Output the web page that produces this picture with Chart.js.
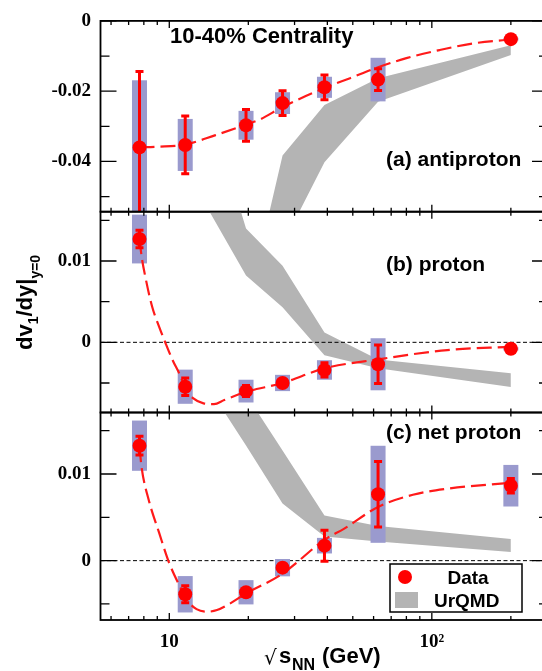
<!DOCTYPE html>
<html><head><meta charset="utf-8">
<script src="https://cdn.jsdelivr.net/npm/chart.js@4.4.1/dist/chart.umd.min.js"></script>
<style>
html,body{margin:0;padding:0;background:#fff;overflow:hidden;}
#wrap{position:relative;width:542px;height:671px;overflow:hidden;background:#fff;}
canvas{position:absolute;left:0;top:0;}
</style></head><body>
<div id="wrap">
<canvas id="ca" width="560" height="671"></canvas>
<canvas id="cb" width="560" height="671"></canvas>
<canvas id="cc" width="560" height="671"></canvas>
</div>
<script>
// ---------- data ----------
const energies = [7.7, 11.5, 19.6, 27, 39, 62.4, 200];

const antiprotonV1   = [-0.0360, -0.0353, -0.0297, -0.0234, -0.0189, -0.0167, -0.0052];
const antiprotonStat = [0.0219, 0.0085, 0.0048, 0.0038, 0.0038, 0.0034, 0.0003];
const antiprotonSys  = [0.0191, 0.0074, 0.0041, 0.0031, 0.0030, 0.0062, 0.0004];

const protonV1   = [0.0127, -0.00546, -0.0060, -0.0050, -0.0034, -0.0027, -0.0008];
const protonStat = [0.0012, 0.0012, 0.0008, 0.0005, 0.0010, 0.0025, 0.0002];
const protonSys  = [0.0030, 0.0021, 0.0014, 0.0010, 0.0012, 0.0032, 0.0002];

const netProtonV1   = [0.01327, -0.00388, -0.00365, -0.00081, 0.00173, 0.00766, 0.00865];
const netProtonStat = [0.0012, 0.0011, 0.0004, 0.0004, 0.0019, 0.0039, 0.00095];
const netProtonSys  = [0.0029, 0.0021, 0.0014, 0.0010, 0.0009, 0.0056, 0.0024];

// dashed fit curves
const fitAntiprotonX = [7.7, 9, 11.5, 15, 19.6, 22.2, 27, 39, 48.8, 62.4, 80, 107, 144, 200];
const fitAntiprotonY = [-0.0360, -0.0358, -0.0352, -0.0325, -0.0295, -0.0280, -0.0245, -0.0191, -0.0163, -0.0132, -0.0106, -0.0083, -0.0064, -0.0053];
const fitProtonX = [7.7, 7.85, 8.1, 8.6, 9.15, 9.65, 10.3, 10.9, 11.6, 12.35, 13.5, 14.8, 16.2, 19.6, 27, 39, 62.4, 114.5, 200];
const fitProtonY = [0.0127, 0.0105, 0.0081, 0.0044, 0.0019, 0.0, -0.0022, -0.0038, -0.0058, -0.0069, -0.0075, -0.0076, -0.0071, -0.0061, -0.0050, -0.0032, -0.0021, -0.00095, -0.00055];
const fitNetProtonX = [7.7, 7.85, 8.35, 9.15, 10, 10.9, 11.8, 12.7, 13.9, 15.2, 16.7, 19.6, 27, 39, 46.4, 62.4, 84.7, 114.5, 200];
const fitNetProtonY = [0.0131, 0.0107, 0.0070, 0.0032, -0.0003, -0.0028, -0.0047, -0.0056, -0.0059, -0.0057, -0.0051, -0.0038, -0.0015, 0.0024, 0.0037, 0.0062, 0.0076, 0.0083, 0.0090];

// UrQMD bands (upper / lower edges)
const urqmdAntiprotonX = [19.6, 27, 39, 62.4, 200];
const urqmdAntiprotonUp = [-0.083, -0.0383, -0.0239, -0.0163, -0.0069];
const urqmdAntiprotonLo = [-0.100, -0.0637, -0.0402, -0.0230, -0.0097];
const urqmdProtonX = [11.5, 19.6, 27, 39, 62.4, 200];
const urqmdProtonUp = [0.0387, 0.0140, 0.0094, 0.0012, -0.0021, -0.0038];
const urqmdProtonLo = [0.0213, 0.0082, 0.0043, -0.0016, -0.0032, -0.0055];
const urqmdNetProtonX = [11.5, 19.6, 27, 39, 62.4, 200];
const urqmdNetProtonUp = [0.0299, 0.0192, 0.0127, 0.0052, 0.0040, 0.0025];
const urqmdNetProtonLo = [0.0241, 0.0133, 0.0066, 0.0028, 0.0022, 0.0010];

// ticks
const xMajorTicks = [10, 100];
const xTickLabels = ['10', '10\u00B2'];
const xMinorTicks = [6, 7, 8, 9, 20, 30, 40, 50, 60, 70, 80, 90, 200];
const yMajorA = [0, -0.02, -0.04];  const yLabelsA = ['0', '-0.02', '-0.04'];  const yMinorA = [-0.01, -0.03, -0.05];
const yMajorB = [0.01, 0];          const yLabelsB = ['0.01', '0'];            const yMinorB = [0.015, 0.005, -0.005];
const yMajorC = [0.01, 0];          const yLabelsC = ['0.01', '0'];            const yMinorC = [0.015, 0.005, -0.005];

// ---------- style ----------
const X_MIN = 5.47, X_MAX = 277;
const RED = '#ff0000', FIT_RED = '#ff1a1a', GREY = '#b4b4b4', BOX = 'rgb(154,154,206)';
const SANS = '"Liberation Sans", Arial, sans-serif';
const SERIF = '"Liberation Serif", "Times New Roman", serif';
const H = 671;

const PANELS = {
  ca: {top: 19, bottom: 211.7, yMin: -0.0543, yMax: 0, major: yMajorA, labels: yLabelsA, minor: yMinorA,
       v: antiprotonV1, stat: antiprotonStat, sys: antiprotonSys, fitX: fitAntiprotonX, fitY: fitAntiprotonY,
       bandX: urqmdAntiprotonX, bandUp: urqmdAntiprotonUp, bandLo: urqmdAntiprotonLo,
       label: '(a) antiproton', labelBase: 166, zero: false, showX: false},
  cb: {top: 211.7, bottom: 412.5, yMin: -0.00863, yMax: 0.01606, major: yMajorB, labels: yLabelsB, minor: yMinorB,
       v: protonV1, stat: protonStat, sys: protonSys, fitX: fitProtonX, fitY: fitProtonY,
       bandX: urqmdProtonX, bandUp: urqmdProtonUp, bandLo: urqmdProtonLo,
       label: '(b) proton', labelBase: 270.5, zero: true, showX: false},
  cc: {top: 412.5, bottom: 620, yMin: -0.00685, yMax: 0.0171, major: yMajorC, labels: yLabelsC, minor: yMinorC,
       v: netProtonV1, stat: netProtonStat, sys: netProtonSys, fitX: fitNetProtonX, fitY: fitNetProtonY,
       bandX: urqmdNetProtonX, bandUp: urqmdNetProtonUp, bandLo: urqmdNetProtonLo,
       label: '(c) net proton', labelBase: 439, zero: true, showX: true}
};

function clipArea(ctx, a) {
  ctx.beginPath(); ctx.rect(a.left, a.top, a.right - a.left, a.bottom - a.top); ctx.clip();
}

function drawZero(chart, p) {
  if (!p.zero) return;
  const {ctx, chartArea: a, scales: {y}} = chart;
  const py = y.getPixelForValue(0);
  ctx.save(); ctx.strokeStyle = '#000'; ctx.lineWidth = 1; ctx.setLineDash([4, 2.5]);
  ctx.beginPath(); ctx.moveTo(a.left, py); ctx.lineTo(a.right, py); ctx.stroke(); ctx.restore();
}

function drawBoxes(chart, p) {
  const {ctx, chartArea: a, scales: {x, y}} = chart;
  ctx.save(); clipArea(ctx, a); ctx.fillStyle = BOX;
  energies.forEach((e, i) => {
    const px = x.getPixelForValue(e);
    const y1 = y.getPixelForValue(p.v[i] + p.sys[i]);
    const y2 = y.getPixelForValue(p.v[i] - p.sys[i]);
    ctx.fillRect(px - 7.5, y1, 15, y2 - y1);
  });
  ctx.restore();
}

function drawErrors(chart, p) {
  const {ctx, chartArea: a, scales: {x, y}} = chart;
  ctx.save(); clipArea(ctx, a); ctx.strokeStyle = RED; ctx.lineWidth = 3; ctx.lineCap = 'butt';
  energies.forEach((e, i) => {
    const px = x.getPixelForValue(e);
    const y1 = y.getPixelForValue(p.v[i] + p.stat[i]);
    const y2 = y.getPixelForValue(p.v[i] - p.stat[i]);
    ctx.beginPath();
    ctx.moveTo(px, y1); ctx.lineTo(px, y2);
    ctx.moveTo(px - 4, y1 + 1); ctx.lineTo(px + 4, y1 + 1);
    ctx.moveTo(px - 4, y2 - 1); ctx.lineTo(px + 4, y2 - 1);
    ctx.stroke();
  });
  ctx.restore();
}

function drawFrame(chart, p) {
  const {ctx, chartArea: a, scales: {x, y}} = chart;
  ctx.save(); ctx.strokeStyle = '#000';
  ctx.lineWidth = 1.3;
  ctx.beginPath();
  const xt = (v, len) => { const px = x.getPixelForValue(v);
    ctx.moveTo(px, a.top); ctx.lineTo(px, a.top + len); ctx.moveTo(px, a.bottom); ctx.lineTo(px, a.bottom - len); };
  xMinorTicks.forEach(v => xt(v, 4)); xMajorTicks.forEach(v => xt(v, 7));
  const yt = (v, len) => { const py = y.getPixelForValue(v);
    ctx.moveTo(a.left, py); ctx.lineTo(a.left + len, py); ctx.moveTo(a.right, py); ctx.lineTo(a.right - len, py); };
  p.minor.forEach(v => yt(v, 9)); p.major.forEach(v => yt(v, 16));
  ctx.stroke();
  ctx.lineWidth = 1.8;
  ctx.strokeRect(a.left, a.top, a.right - a.left, a.bottom - a.top);
  ctx.restore();
}

function drawTexts(chart, p, id) {
  const ctx = chart.ctx;
  ctx.save(); ctx.fillStyle = '#000'; ctx.textBaseline = 'alphabetic'; ctx.textAlign = 'left';
  ctx.font = 'bold 21px ' + SANS;
  ctx.fillText(p.label, 386, p.labelBase);
  if (id === 'ca') {
    ctx.font = 'bold 22px ' + SANS;
    ctx.fillText('10-40% Centrality', 170, 43);
  }
  if (id === 'cb') {
    ctx.save(); ctx.translate(32, 350); ctx.rotate(-Math.PI / 2);
    let cx = 0;
    const part = (t, size, dy) => { ctx.font = 'bold ' + size + 'px ' + SANS; ctx.fillText(t, cx, dy); cx += ctx.measureText(t).width; };
    part('dv', 22, 0); part('1', 14, 6); part('/dy|', 22, 0); part('y=0', 14, 8);
    ctx.restore();
  }
  if (id === 'cc') {
    // x title
    ctx.font = '20px "DejaVu Sans", ' + SANS; ctx.fillText('\u221A', 264, 664);
    ctx.font = 'bold 22px ' + SANS; ctx.fillText('s', 279, 663);
    ctx.font = 'bold 16px ' + SANS; ctx.fillText('NN', 292, 670);
    ctx.font = 'bold 22px ' + SANS; ctx.fillText('(GeV)', 322, 663);
    // legend
    ctx.lineWidth = 1.5; ctx.strokeStyle = '#000'; ctx.strokeRect(390, 564, 132, 48);
    ctx.fillStyle = RED; ctx.beginPath(); ctx.arc(405, 577, 7, 0, Math.PI * 2); ctx.fill();
    ctx.fillStyle = GREY; ctx.fillRect(395, 592, 23, 16);
    ctx.fillStyle = '#000'; ctx.font = 'bold 19px ' + SANS; ctx.textAlign = 'center';
    ctx.fillText('Data', 468, 583.5);
    ctx.fillText('UrQMD', 466.7, 606.5);
  }
  ctx.restore();
}

const decor = {
  id: 'decor',
  beforeDatasetDraw(chart, args) {
    const p = PANELS[chart.canvas.id];
    if (chart.data.datasets[args.index].role === 'fit') { drawZero(chart, p); drawBoxes(chart, p); }
  },
  afterDatasetDraw(chart, args) {
    const p = PANELS[chart.canvas.id];
    if (chart.data.datasets[args.index].role === 'fit') drawErrors(chart, p);
  },
  afterDraw(chart) {
    const p = PANELS[chart.canvas.id];
    drawFrame(chart, p); drawTexts(chart, p, chart.canvas.id);
  }
};

function pts(xs, ys) { return xs.map((e, i) => ({x: e, y: ys[i]})); }

function makeChart(id) {
  const p = PANELS[id];
  const xScale = {
    type: 'logarithmic', min: X_MIN, max: X_MAX, bounds: 'data', position: 'bottom', display: p.showX,
    afterBuildTicks: s => { s.ticks = xMajorTicks.map(v => ({value: v})); },
    ticks: {autoSkip: false, maxRotation: 0, minRotation: 0, color: '#000', padding: 11,
            font: {family: SERIF, weight: 'bold', size: 19}, callback: (v, i) => xTickLabels[i]},
    grid: {display: false, drawTicks: false}, border: {display: false}
  };
  if (p.showX) xScale.afterFit = s => { s.height = H - p.bottom; };
  return new Chart(document.getElementById(id), {
    type: 'scatter',
    data: {datasets: [
      {type: 'line', role: 'bandUp', data: pts(p.bandX, p.bandUp), borderColor: 'rgba(0,0,0,0)', borderWidth: 0,
       pointRadius: 0, fill: false, tension: 0, order: 6},
      {type: 'line', role: 'bandLo', data: pts(p.bandX, p.bandLo), borderColor: 'rgba(0,0,0,0)', borderWidth: 0,
       pointRadius: 0, fill: '-1', backgroundColor: GREY, tension: 0, order: 5},
      {type: 'line', role: 'fit', data: pts(p.fitX, p.fitY), borderColor: FIT_RED, borderWidth: 2.2,
       borderDash: [15, 6], pointRadius: 0, fill: false, cubicInterpolationMode: 'monotone', order: 3},
      {type: 'scatter', role: 'data', data: pts(energies, p.v), pointRadius: 7, pointBackgroundColor: RED,
       pointBorderWidth: 0, pointBorderColor: RED, order: 1}
    ]},
    options: {
      responsive: false, animation: false, events: [],
      layout: {padding: {left: 0, right: 12, top: p.top, bottom: p.showX ? 0 : H - p.bottom}},
      plugins: {legend: {display: false}, tooltip: {enabled: false}},
      scales: {
        x: xScale,
        y: {type: 'linear', min: p.yMin, max: p.yMax, bounds: 'data', position: 'left',
            afterFit: s => { s.width = 100.5; },
            afterBuildTicks: s => { s.ticks = p.major.map(v => ({value: v})); },
            ticks: {autoSkip: false, color: '#000', padding: 9.5,
                    font: {family: SERIF, weight: 'bold', size: 19}, callback: (v, i) => p.labels[i]},
            grid: {display: false, drawTicks: false}, border: {display: false}}
      }
    },
    plugins: [decor]
  });
}

['ca', 'cb', 'cc'].forEach(makeChart);
</script>
</body></html>
